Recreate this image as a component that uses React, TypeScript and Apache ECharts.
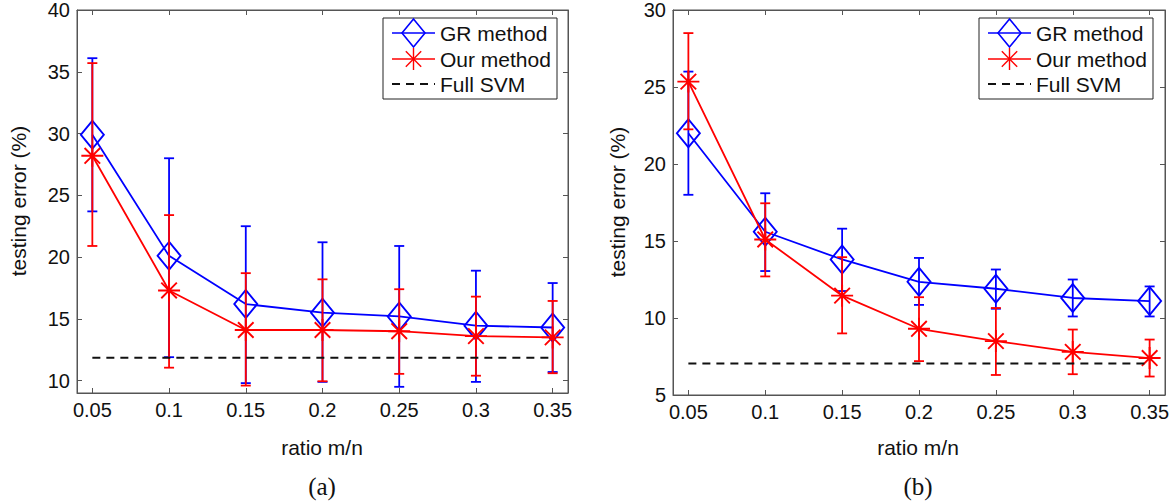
import React, { useEffect, useRef } from "react";
import * as echarts from "echarts";

// ---- data ----
const ratios = [0.05, 0.1, 0.15, 0.2, 0.25, 0.3, 0.35];
const xTicks = [0.05, 0.1, 0.15, 0.2, 0.25, 0.3, 0.35];
const yTicksA = [10, 15, 20, 25, 30, 35, 40];
const yTicksB = [5, 10, 15, 20, 25, 30];

// (a)
const grA = [29.9, 20.1, 16.2, 15.5, 15.2, 14.45, 14.3];
const grAHi = [36.1, 28.0, 22.5, 21.2, 20.9, 18.9, 17.9];
const grALo = [23.7, 11.9, 9.8, 9.9, 9.5, 9.9, 10.7];
const ourA = [28.2, 17.3, 14.1, 14.1, 14.0, 13.6, 13.5];
const ourAHi = [35.7, 23.4, 18.7, 18.2, 17.4, 16.8, 16.45];
const ourALo = [20.9, 11.05, 9.6, 9.95, 10.55, 10.4, 10.6];
const fullA = 11.85;

// (b)
const grB = [22.0, 15.6, 13.8, 12.35, 11.9, 11.3, 11.1];
const grBHi = [26.0, 18.1, 15.8, 13.9, 13.15, 12.5, 12.05];
const grBLo = [18.0, 13.05, 11.75, 10.85, 10.6, 10.1, 10.1];
const ourB = [25.35, 15.1, 11.45, 9.3, 8.5, 7.8, 7.4];
const ourBHi = [28.5, 17.45, 13.95, 11.35, 10.65, 9.25, 8.6];
const ourBLo = [22.25, 12.7, 9.0, 7.2, 6.3, 6.35, 6.2];
const fullB = 7.05;

const legendNames = ["GR method", "Our method", "Full SVM"];

const BLUE = "#0000ff";
const RED = "#ff0000";
const AXIS = "#555555";
const TEXT = "#111111";
const FONT = "'Liberation Sans', Arial, Helvetica, sans-serif";

const DIAMOND = "path://M10 0 L20 10 L10 20 L0 10 Z";
const ASTERISK =
  "path://M10 0 L10 20 M0 10 L20 10 M2.93 2.93 L17.07 17.07 M2.93 17.07 L17.07 2.93";

function errorSeries(name: string, lo: number[], hi: number[], color: string, xi: number, yi: number) {
  return {
    type: "custom",
    name,
    xAxisIndex: xi,
    yAxisIndex: yi,
    z: color === RED ? 4 : 2,
    encode: { x: 0, y: [1, 2] },
    data: ratios.map((r, i) => [r, lo[i], hi[i]]),
    renderItem: (params: any, api: any) => {
      const x = api.value(0);
      const a = api.coord([x, api.value(1)]);
      const b = api.coord([x, api.value(2)]);
      const w = 5;
      const st = { stroke: color, lineWidth: 1.8 };
      return {
        type: "group",
        children: [
          { type: "line", shape: { x1: a[0], y1: a[1], x2: b[0], y2: b[1] }, style: st },
          { type: "line", shape: { x1: a[0] - w, y1: a[1], x2: a[0] + w, y2: a[1] }, style: st },
          { type: "line", shape: { x1: b[0] - w, y1: b[1], x2: b[0] + w, y2: b[1] }, style: st },
        ],
      };
    },
  };
}

function lineSeries(name: string, vals: number[], color: string, xi: number, yi: number, diamond: boolean) {
  return {
    type: "line",
    name,
    xAxisIndex: xi,
    yAxisIndex: yi,
    z: diamond ? 3 : 5,
    data: ratios.map((r, i) => [r, vals[i]]),
    symbol: diamond ? DIAMOND : ASTERISK,
    symbolSize: diamond ? [23, 28] : [22, 22],
    showSymbol: true,
    lineStyle: { color, width: 1.8 },
    itemStyle: { color: "none", borderColor: color, borderWidth: 1.9 },
  };
}

function fullSeries(v: number, xi: number, yi: number) {
  return {
    type: "line",
    name: legendNames[2],
    xAxisIndex: xi,
    yAxisIndex: yi,
    z: 6,
    data: [
      [ratios[0], v],
      [ratios[ratios.length - 1], v],
    ],
    symbol: "none",
    lineStyle: { color: "#111", width: 2, type: [8, 6] },
  };
}

function xAxes(gridIndex: number) {
  const base = {
    type: "value",
    gridIndex,
    min: 0.04,
    max: 0.36,
    splitLine: { show: false },
    axisLine: { show: true, lineStyle: { color: AXIS, width: 1 } },
    axisTick: { show: true, inside: true, length: 5, customValues: xTicks, lineStyle: { color: AXIS } },
  };
  return [
    {
      ...base,
      position: "bottom",
      axisLabel: {
        show: true,
        customValues: xTicks,
        margin: 7,
        fontSize: 20,
        fontFamily: FONT,
        color: TEXT,
        formatter: (v: number) => String(v),
      },
    },
    { ...base, position: "top", axisLabel: { show: false } },
  ];
}

function yAxes(gridIndex: number, min: number, max: number, ticks: number[]) {
  const base = {
    type: "value",
    gridIndex,
    min,
    max,
    splitLine: { show: false },
    axisLine: { show: true, lineStyle: { color: AXIS, width: 1 } },
    axisTick: { show: true, inside: true, length: 5, customValues: ticks, lineStyle: { color: AXIS } },
  };
  return [
    {
      ...base,
      position: "left",
      axisLabel: {
        show: true,
        customValues: ticks,
        margin: 7,
        fontSize: 20,
        fontFamily: FONT,
        color: TEXT,
        formatter: (v: number) => String(v),
      },
    },
    { ...base, position: "right", axisLabel: { show: false } },
  ];
}

function legendGraphic(x0: number, y0: number) {
  const w = 174;
  const h = 81;
  const rows = [y0 + 15, y0 + 41, y0 + 66];
  const lx1 = x0 + 9;
  const lx2 = x0 + 52;
  const cx = (lx1 + lx2) / 2;
  const tx = x0 + 57;
  const txt = (t: string, y: number) => ({
    type: "text",
    x: tx,
    y,
    style: { text: t, fontSize: 21, fontFamily: FONT, fill: TEXT, textAlign: "left", textVerticalAlign: "middle" },
  });
  const d = 11;
  const r = rows[1];
  return [
    {
      type: "rect",
      shape: { x: x0, y: y0, width: w, height: h },
      style: { fill: "#fff", stroke: "#222", lineWidth: 1 },
      z: 100,
    },
    { type: "line", z: 101, shape: { x1: lx1, y1: rows[0], x2: lx2, y2: rows[0] }, style: { stroke: BLUE, lineWidth: 1.7 } },
    {
      type: "polygon",
      z: 101,
      shape: { points: [[cx, rows[0] - 14], [cx + 11.5, rows[0]], [cx, rows[0] + 14], [cx - 11.5, rows[0]]] },
      style: { fill: "none", stroke: BLUE, lineWidth: 1.6 },
    },
    { type: "line", z: 101, shape: { x1: lx1, y1: r, x2: lx2, y2: r }, style: { stroke: RED, lineWidth: 1.7 } },
    { type: "line", z: 101, shape: { x1: cx, y1: r - d, x2: cx, y2: r + d }, style: { stroke: RED, lineWidth: 1.4 } },
    { type: "line", z: 101, shape: { x1: cx - d * 0.7, y1: r - d * 0.7, x2: cx + d * 0.7, y2: r + d * 0.7 }, style: { stroke: RED, lineWidth: 1.4 } },
    { type: "line", z: 101, shape: { x1: cx - d * 0.7, y1: r + d * 0.7, x2: cx + d * 0.7, y2: r - d * 0.7 }, style: { stroke: RED, lineWidth: 1.4 } },
    {
      type: "line",
      z: 101,
      shape: { x1: lx1, y1: rows[2], x2: lx2, y2: rows[2] },
      style: { stroke: "#111", lineWidth: 1.8, lineDash: [8, 6] },
    },
    { ...txt(legendNames[0], rows[0]), z: 101 },
    { ...txt(legendNames[1], rows[1]), z: 101 },
    { ...txt(legendNames[2], rows[2]), z: 101 },
  ];
}

function label(t: string, x: number, y: number, opts: any = {}) {
  return {
    type: "text",
    x,
    y,
    rotation: opts.rotation || 0,
    style: {
      text: t,
      fontSize: opts.fontSize || 20,
      fontFamily: opts.fontFamily || FONT,
      fill: TEXT,
      textAlign: "center",
      textVerticalAlign: "middle",
    },
  };
}

export default function App() {
  const ref = useRef<HTMLDivElement>(null);
  useEffect(() => {
    if (!ref.current) return;
    const chart = echarts.init(ref.current, undefined, { renderer: "svg" });
    const SERIF = "'Liberation Serif', 'Times New Roman', serif";
    chart.setOption({
      animation: false,
      backgroundColor: "#ffffff",
      grid: [
        { left: 77, top: 10, width: 491, height: 383, show: true, borderColor: AXIS, borderWidth: 1, containLabel: false, outerBoundsMode: "none" },
        { left: 673, top: 10, width: 492, height: 385, show: true, borderColor: AXIS, borderWidth: 1, containLabel: false, outerBoundsMode: "none" },
      ],
      xAxis: [...xAxes(0), ...xAxes(1)],
      yAxis: [...yAxes(0, 9, 40, yTicksA), ...yAxes(1, 5, 30, yTicksB)],
      series: [
        errorSeries(legendNames[0], grALo, grAHi, BLUE, 0, 0),
        lineSeries(legendNames[0], grA, BLUE, 0, 0, true),
        errorSeries(legendNames[1], ourALo, ourAHi, RED, 0, 0),
        lineSeries(legendNames[1], ourA, RED, 0, 0, false),
        fullSeries(fullA, 0, 0),
        errorSeries(legendNames[0], grBLo, grBHi, BLUE, 2, 2),
        lineSeries(legendNames[0], grB, BLUE, 2, 2, true),
        errorSeries(legendNames[1], ourBLo, ourBHi, RED, 2, 2),
        lineSeries(legendNames[1], ourB, RED, 2, 2, false),
        fullSeries(fullB, 2, 2),
      ],
      graphic: [
        ...legendGraphic(383, 18),
        ...legendGraphic(979, 18),
        label("testing error (%)", 18, 201, { rotation: Math.PI / 2, fontSize: 21 }),
        label("testing error (%)", 617, 202, { rotation: Math.PI / 2, fontSize: 21 }),
        label("ratio m/n", 322, 447, { fontSize: 21 }),
        label("ratio m/n", 918, 447, { fontSize: 21 }),
        label("(a)", 322, 486, { fontSize: 25, fontFamily: SERIF }),
        label("(b)", 918, 486, { fontSize: 25, fontFamily: SERIF }),
      ],
    });
    return () => chart.dispose();
  }, []);
  return (
    <div
      ref={ref}
      style={{ position: "absolute", left: 0, top: 0, width: 1176, height: 502, background: "#fff" }}
    />
  );
}
